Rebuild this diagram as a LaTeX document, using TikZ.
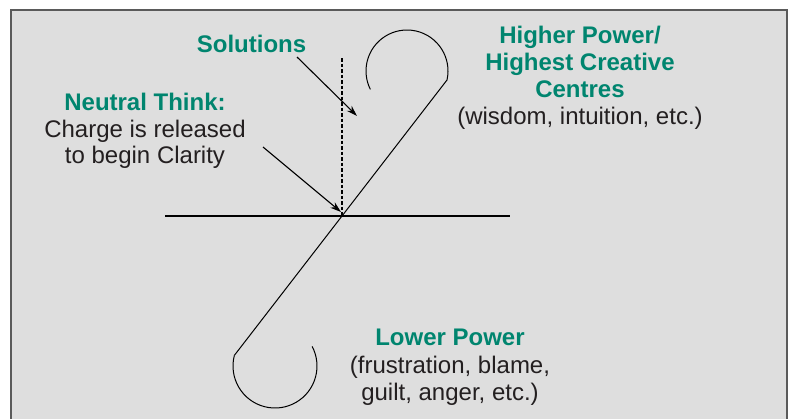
\documentclass[tikz,border=0pt]{standalone}
\usepackage{fontspec}
\setmainfont{Liberation Sans}
\usetikzlibrary{arrows.meta,calc}
\definecolor{bggray}{HTML}{DEDEDE}
\definecolor{labelgreen}{HTML}{00856F}
\definecolor{textdark}{HTML}{231F20}
\definecolor{framegray}{HTML}{5A5A5A}
\begin{document}
\begin{tikzpicture}[x=1pt,y=-1pt,
  title/.style={font=\fontsize{24}{27}\selectfont\bfseries, text=labelgreen, anchor=base, inner sep=0pt},
  body/.style={font=\fontsize{24}{27}\selectfont, text=textdark, anchor=base, inner sep=0pt},
  thinline/.style={draw=black, line width=1pt},
  axisline/.style={draw=black, line width=1.3pt},
  dashline/.style={draw=black, line width=1.6pt, dash pattern=on 3.5pt off 2pt},
  pointer/.style={draw=black, line width=1.1pt, -{Stealth[length=11pt,width=7pt]}}]
\useasboundingbox (0,0) rectangle (791,418);
\fill[bggray] (11,10) rectangle (787,425);
\draw[framegray, line width=2pt] (11,425) -- (11,10) -- (787,10) -- (787,425);
% texts
\node[title] (sol) at (251.5,52.5) {Solutions};
\node[title] (nt) at (145,110) {Neutral Think:};
\node[body] (nt1) at (145,137) {Charge is released};
\node[body] (nt2) at (145,163) {to begin Clarity};
\node[title] (hp1) at (580,43) {Higher Power/};
\node[title] (hp2) at (580,70) {Highest Creative};
\node[title] (hp3) at (580,97) {Centres};
\node[body] (hp4) at (580,124) {(wisdom, intuition, etc.)};
\node[title] (lp1) at (450,345) {Lower Power};
\node[body] (lp2) at (450,373) {(frustration, blame,};
\node[body] (lp3) at (450,400) {guilt, anger, etc.)};
% geometry
\coordinate (O) at (342,216);
\coordinate (hl) at (165,216);
\coordinate (hr) at (510,216);
\coordinate (dtop) at (342,58);
\coordinate (uc) at (407,71);
\coordinate (uj) at ($(uc)+(12.7:41)$);
\coordinate (lc) at (275,366);
\coordinate (lj) at ($(lc)+(194.7:42)$);
\draw[axisline] (hl) -- (hr);
\draw[dashline] (dtop) -- (O);
\draw[thinline] (uj) -- (O) -- (lj);
\draw[thinline] (uj) arc[start angle=12.7, end angle=-206.6, radius=41];
\draw[thinline] (lj) arc[start angle=194.7, end angle=-27.9, radius=42];
% pointers
\coordinate (solA) at (297,57);
\coordinate (solB) at (357,116);
\coordinate (ntA) at (263,147);
\coordinate (ntB) at (341,212);
\draw[pointer] (solA) -- (solB);
\draw[pointer] (ntA) -- (ntB);
\end{tikzpicture}
\end{document}
